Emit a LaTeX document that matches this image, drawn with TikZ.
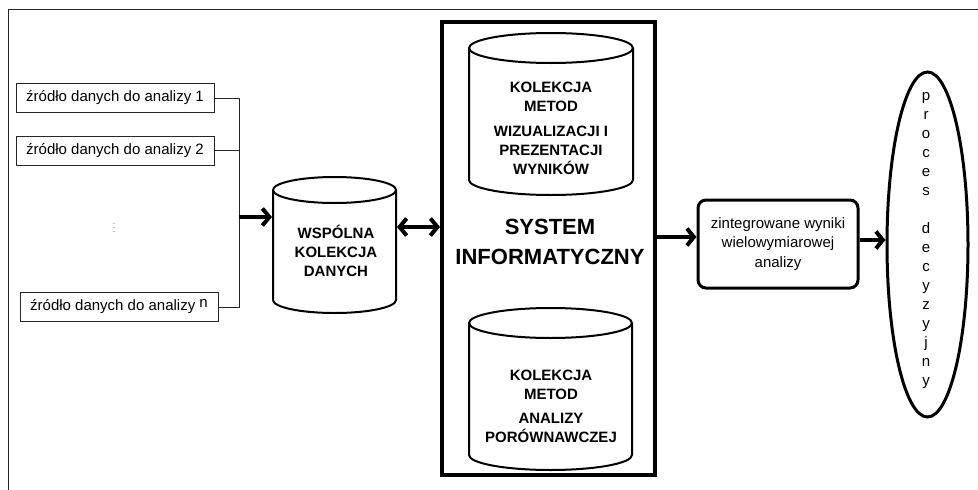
\documentclass[tikz,border=0pt]{standalone}
\usepackage{fontspec}
\setmainfont{Liberation Sans}
\usetikzlibrary{shapes.geometric,arrows.meta}

\tikzset{
  zrodlo/.style={draw=black!85, line width=0.8pt, minimum width=198pt, minimum height=29pt,
    inner sep=0pt, font=\fontsize{15}{19}\selectfont},
  napis/.style={align=center, inner sep=0pt, font=\fontsize{15}{19}\selectfont\bfseries},
  strzalka/.style={line width=4pt, -{Straight Barb[length=7pt,width=17pt]}},
}

% walec: nazwa, x, y, szerokosc, wysokosc, promien pionowy
\newcommand{\walec}[6]{%
  \node[minimum width=#4pt, minimum height=#5pt, inner sep=0pt, outer sep=1pt] (#1) at (#2,#3) {};
  \pgfmathsetmacro{\wrx}{#4/2}
  \pgfmathsetmacro{\wxl}{#2-#4/2}
  \pgfmathsetmacro{\wxr}{#2+#4/2}
  \pgfmathsetmacro{\wyg}{#3-#5/2+#6}
  \pgfmathsetmacro{\wyd}{#3+#5/2-#6}
  \draw[line width=2pt] (#2,\wyg) ellipse[x radius=\wrx, y radius=#6];
  \draw[line width=2pt] (\wxl,\wyg) -- (\wxl,\wyd)
      arc[start angle=180, end angle=0, x radius=\wrx, y radius=#6] -- (\wxr,\wyg);
}

\begin{document}
\begin{tikzpicture}[x=1pt,y=-1pt]
    \useasboundingbox (0,0) rectangle (978,490);
    % Ramka
    \draw[line width=0.8pt, black!85] (978,9) -- (8,9) -- (8,490);

    % Zrodla danych
    \node[zrodlo] (z1) at (115,98) {źródło danych do analizy 1};
    \node[zrodlo] (z2) at (115,150.5) {źródło danych do analizy 2};
    \node[zrodlo] (zn) at (119,307) {źródło danych do analizy \raisebox{3pt}{n}};
    \node[inner sep=0pt, font=\scriptsize] (kropki) at (114,225) {$\vdots$};

    % Szyna
    \coordinate (szynaG) at (239,98);
    \coordinate (szynaD) at (239,307);
    \coordinate (szynaS) at (239,217);
    \draw[line width=0.8pt, black!85] (z1.east) -- (szynaG) -- (szynaD) -- (zn.east);
    \draw[line width=0.8pt, black!85] (z2.east) -- (z2.east -| szynaG);

    % Wspolna kolekcja danych
    \walec{wspolna}{334.5}{245}{123}{136}{13}
    \node[napis] (wspolnaTxt) at (336,251) {WSPÓLNA\\KOLEKCJA\\DANYCH};
    \draw[strzalka] (szynaS) -- (szynaS -| wspolna.west);

    % System informatyczny
    \node[draw, line width=4pt, minimum width=213pt, minimum height=453pt, inner sep=0pt] (system) at (548.5,248.5) {};
    \walec{metody1}{551}{114}{164}{162}{15}
    \node[napis] (metody1Txt) at (551,128) {KOLEKCJA\\METOD\\[6pt]WIZUALIZACJI I\\PREZENTACJI\\WYNIKÓW};
    \node[napis, font=\fontsize{22}{30}\selectfont\bfseries] (systemTxt) at (550,242) {SYSTEM\\INFORMATYCZNY};
    \walec{metody2}{550.5}{389}{163}{162}{15}
    \node[napis] (metody2Txt) at (551,406) {KOLEKCJA\\METOD\\[5pt]ANALIZY\\PORÓWNAWCZEJ};
    \draw[line width=4pt, {Straight Barb[length=7pt,width=17pt]}-{Straight Barb[length=7pt,width=17pt]}]
        (wspolna.east |- 0,227) -- (system.west |- 0,227);

    % Wyniki
    \node[draw, line width=3pt, rounded corners=8pt, minimum width=160pt, minimum height=88pt,
        align=center, font=\fontsize{15}{19.5}\selectfont] (wyniki) at (778,244)
        {zintegrowane wyniki\\wielowymiarowej\\analizy};
    \draw[strzalka] (system.east |- 0,237) -- (wyniki.west |- 0,237);

    % Proces decyzyjny
    \node[ellipse, draw, line width=3pt, minimum width=81pt, minimum height=345pt, inner sep=0pt] (proces) at (927.5,244.5) {};
    \node[align=center, inner sep=0pt, font=\fontsize{15}{19}\selectfont] (procesTxt) at (926,241)
        {p\\r\\o\\c\\e\\s\\[19pt]d\\e\\c\\y\\z\\y\\j\\n\\y};
    \draw[strzalka] (wyniki.east |- 0,240) -- (proces.west |- 0,240);
\end{tikzpicture}
\end{document}
